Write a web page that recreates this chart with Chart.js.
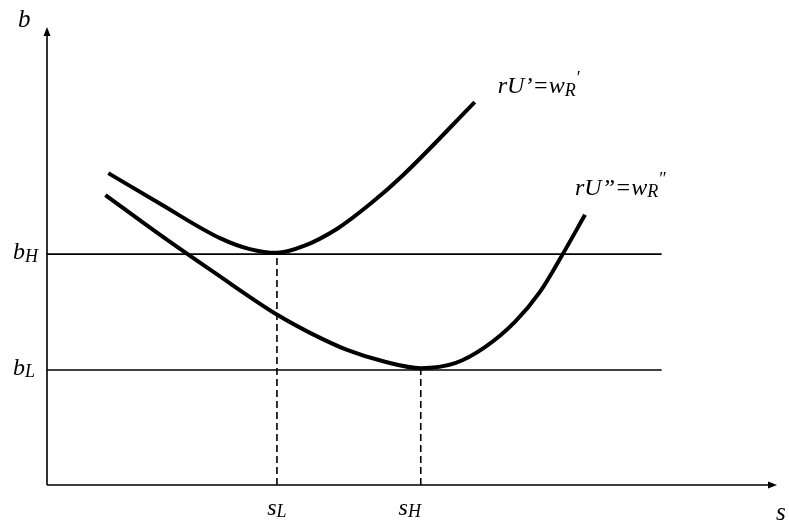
<!DOCTYPE html>
<html>
<head>
<meta charset="utf-8">
<script src="https://cdn.jsdelivr.net/npm/chart.js@4.4.1/dist/chart.umd.min.js"></script>
<style>
  html, body { margin: 0; padding: 0; background: #fff; }
  #wrap { width: 789px; height: 524px; }
</style>
</head>
<body>
<div id="wrap"><canvas id="diagram"></canvas></div>
<script>
// curve rU' = wR' (upper curve), s and b in diagram units
const curve1S = [8.4, 15.5, 23.7, 27.8, 31.5, 35.2, 39.7, 44.3, 48.8, 58.6];
const curve1B = [68.1, 61.4, 53.9, 51.5, 50.7, 52.2, 55.9, 61.4, 67.7, 83.6];

// curve rU'' = wR'' (lower curve)
const curve2S = [8.0, 15.5, 23.0, 31.6, 36.3, 41.1, 46.3, 51.2, 55.9, 60.0, 64.1, 67.5, 70.5, 73.7];
const curve2B = [63.3, 54.6, 46.3, 37.1, 33.0, 29.5, 26.9, 25.5, 26.6, 30.1, 35.6, 42.1, 50.0, 59.0];

// reference levels
const bLevels = [50.4, 25.1];        // bH, bL
const bLevelNames = ["H", "L"];
const sLevels = [31.5, 51.2];        // sL, sH
const sLevelNames = ["L", "H"];
const levelLineEnd = 84.2;
const curveNames = [["rU\u2019=w", "R", "\u2032"], ["rU\u201D=w", "R", "\u2033"]];
const axisNames = ["b", "s"];

function toPoints(xs, ys) {
  return xs.map((v, i) => ({ x: v, y: ys[i] }));
}

const FONT = "'Liberation Serif', 'DejaVu Serif', serif";

// draw main text + subscript (+ optional superscript after the subscript)
function drawSub(ctx, main, sub, sup, x, y, size, align) {
  ctx.font = `italic ${size}px ${FONT}`;
  const wMain = ctx.measureText(main).width;
  ctx.font = `italic ${size * 0.75}px ${FONT}`;
  const wSub = ctx.measureText(sub).width;
  const total = wMain + wSub;
  let x0 = x;
  if (align === "center") x0 = x - total / 2;
  if (align === "right") x0 = x - total;
  ctx.textAlign = "left";
  ctx.textBaseline = "alphabetic";
  ctx.font = `italic ${size}px ${FONT}`;
  ctx.fillText(main, x0, y);
  ctx.font = `italic ${size * 0.75}px ${FONT}`;
  ctx.fillText(sub, x0 + wMain, y + size * 0.1);
  if (sup) {
    ctx.font = `${size * 0.75}px ${FONT}`;
    ctx.fillText(sup, x0 + total + 1, y - size * 0.4);
  }
}

const diagramPlugin = {
  id: "diagram",
  afterDatasetsDraw(chart) {
    const { ctx, chartArea: a, scales } = chart;
    const xs = scales.x, ys = scales.y;
    ctx.save();
    ctx.fillStyle = "#000";
    ctx.strokeStyle = "#000";
    ctx.lineWidth = 1.6;

    // axes with arrows
    ctx.beginPath();
    ctx.moveTo(a.left, a.bottom);
    ctx.lineTo(a.left, a.top + 6);
    ctx.moveTo(a.left, a.bottom);
    ctx.lineTo(a.right - 6, a.bottom);
    ctx.stroke();
    ctx.beginPath();
    ctx.moveTo(a.left, a.top);
    ctx.lineTo(a.left - 3.5, a.top + 9);
    ctx.lineTo(a.left + 3.5, a.top + 9);
    ctx.closePath();
    ctx.fill();
    ctx.beginPath();
    ctx.moveTo(a.right, a.bottom);
    ctx.lineTo(a.right - 9, a.bottom - 3.5);
    ctx.lineTo(a.right - 9, a.bottom + 3.5);
    ctx.closePath();
    ctx.fill();

    // axis names
    ctx.font = `italic 25px ${FONT}`;
    ctx.textAlign = "left";
    ctx.textBaseline = "alphabetic";
    ctx.fillText(axisNames[0], a.left - 29, a.top);
    ctx.fillText(axisNames[1], a.right - 1, a.bottom + 35);

    // level labels
    bLevels.forEach((v, i) => {
      drawSub(ctx, "b", bLevelNames[i], null, a.left - 34, ys.getPixelForValue(v) + 5, 24, "left");
    });
    sLevels.forEach((v, i) => {
      drawSub(ctx, "s", sLevelNames[i], null, xs.getPixelForValue(v) - (i ? 11 : 0), a.bottom + 30, 24, "center");
    });

    // curve labels next to their upper ends
    const ends = [
      [curve1S[curve1S.length - 1], curve1B[curve1B.length - 1]],
      [curve2S[curve2S.length - 1], curve2B[curve2B.length - 1]],
    ];
    const offsets = [[23, -9], [-10, -20]];
    ends.forEach((e, i) => {
      const px = xs.getPixelForValue(e[0]);
      const py = ys.getPixelForValue(e[1]);
      drawSub(ctx, curveNames[i][0], curveNames[i][1], curveNames[i][2],
        px + offsets[i][0], py + offsets[i][1], 24, "left");
    });
    ctx.restore();
  },
};

const thin = { borderColor: "#000", borderWidth: 1.6, pointRadius: 0, fill: false };
const thick = { borderColor: "#000", borderWidth: 4, pointRadius: 0, fill: false, cubicInterpolationMode: "monotone" };

const datasets = [
  { ...thin, data: [{ x: 0, y: bLevels[0] }, { x: levelLineEnd, y: bLevels[0] }] },
  { ...thin, data: [{ x: 0, y: bLevels[1] }, { x: levelLineEnd, y: bLevels[1] }] },
  { ...thin, borderDash: [7, 4], data: [{ x: sLevels[0], y: 0 }, { x: sLevels[0], y: bLevels[0] }] },
  { ...thin, borderDash: [7, 4], data: [{ x: sLevels[1], y: 0 }, { x: sLevels[1], y: bLevels[1] }] },
  { ...thick, data: toPoints(curve1S, curve1B) },
  { ...thick, data: toPoints(curve2S, curve2B) },
];

new Chart(document.getElementById("diagram"), {
  type: "line",
  data: { datasets },
  options: {
    responsive: true,
    maintainAspectRatio: false,
    animation: false,
    clip: false,
    layout: { padding: { left: 47, right: 12, top: 27, bottom: 39 } },
    scales: {
      x: { type: "linear", min: 0, max: 100, display: false },
      y: { type: "linear", min: 0, max: 100, display: false },
    },
    plugins: {
      legend: { display: false },
      tooltip: { enabled: false },
    },
  },
  plugins: [diagramPlugin],
});
</script>
</body>
</html>
